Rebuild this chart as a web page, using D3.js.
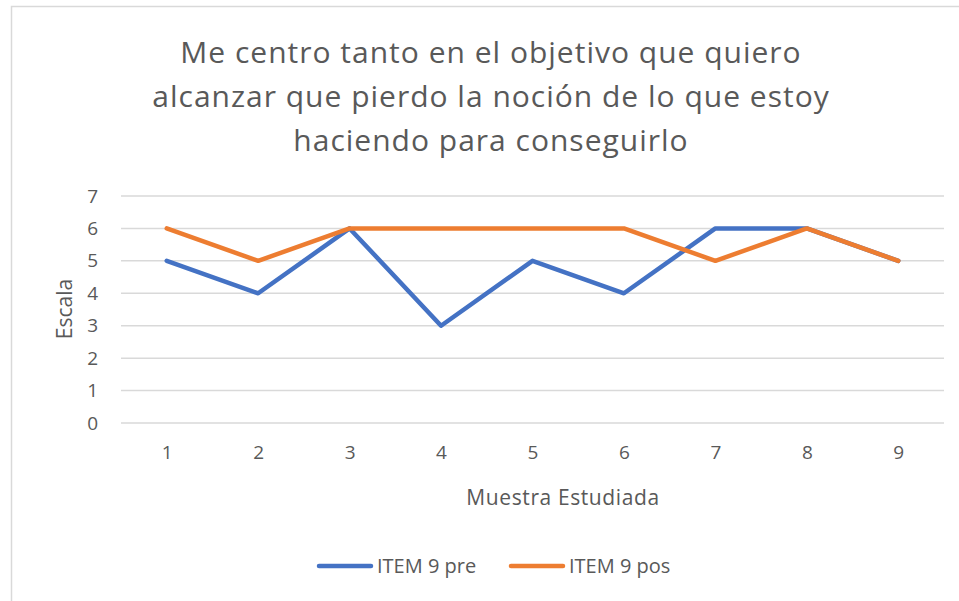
<!DOCTYPE html>
<html>
<head>
<meta charset="utf-8">
<script src="https://cdn.jsdelivr.net/npm/d3@7"></script>
<style>
  body { margin: 0; background: #fff; }
  text { font-family: "Open Sans", sans-serif; fill: #595959; }
</style>
</head>
<body>
<div id="chart"></div>
<script>
// data
var categories = [1, 2, 3, 4, 5, 6, 7, 8, 9];
var itemPre = [5, 4, 6, 3, 5, 4, 6, 6, 5];
var itemPos = [6, 5, 6, 6, 6, 6, 5, 6, 5];
var yTicks = [0, 1, 2, 3, 4, 5, 6, 7];
var titleLines = ["Me centro tanto en el objetivo que quiero",
                  "alcanzar que pierdo la noción de lo que estoy",
                  "haciendo para conseguirlo"];
var seriesNames = ["ITEM 9 pre", "ITEM 9 pos"];
var colors = ["#4472C4", "#ED7D31"];

var svgWidth = 959;
var svgHeight = 601;
var plot = { left: 121, right: 944, top: 196, bottom: 423 };

var svg = d3.select("#chart")
    .append("svg")
    .attr("width", svgWidth)
    .attr("height", svgHeight);

// chart border
svg.append("path")
    .attr("d", `M11.5,${svgHeight} V6.5 H${svgWidth}`)
    .attr("fill", "none")
    .attr("stroke", "#d9d9d9")
    .attr("stroke-width", 1.5);

// scales
var xScale = d3.scalePoint()
    .domain(categories)
    .range([plot.left, plot.right])
    .padding(0.5);
var yScale = d3.scaleLinear()
    .domain([0, 7])
    .range([plot.bottom, plot.top]);

// gridlines
svg.append("g")
    .selectAll("line")
    .data(yTicks)
    .enter()
    .append("line")
    .attr("x1", plot.left)
    .attr("x2", plot.right)
    .attr("y1", d => yScale(d))
    .attr("y2", d => yScale(d))
    .attr("stroke", "#d9d9d9")
    .attr("stroke-width", 1.5);

// y axis
var leftAxis = d3.axisLeft(yScale).tickValues(yTicks).tickFormat(d3.format("d")).tickSize(0).tickPadding(23);
var yAxisG = svg.append("g")
    .attr("transform", `translate(${plot.left}, 0)`)
    .call(leftAxis);
yAxisG.select(".domain").remove();
yAxisG.selectAll("text").attr("font-size", 19).attr("fill", "#595959").attr("font-family", "Open Sans");

// x axis
var bottomAxis = d3.axisBottom(xScale).tickSize(0).tickPadding(23);
var xAxisG = svg.append("g")
    .attr("transform", `translate(0, ${plot.bottom})`)
    .call(bottomAxis);
xAxisG.select(".domain").remove();
xAxisG.selectAll("text").attr("font-size", 19).attr("fill", "#595959").attr("font-family", "Open Sans");

// lines
var line = d3.line()
    .x((d, i) => xScale(categories[i]))
    .y(d => yScale(d));

[itemPre, itemPos].forEach(function(series, i) {
    svg.append("path")
        .datum(series)
        .attr("d", line)
        .attr("fill", "none")
        .attr("stroke", colors[i])
        .attr("stroke-width", 4.5)
        .attr("stroke-linejoin", "round")
        .attr("stroke-linecap", "round");
});

// title
svg.append("g")
    .selectAll("text")
    .data(titleLines)
    .enter()
    .append("text")
    .attr("x", 491)
    .attr("y", (d, i) => 63 + i * 44)
    .attr("text-anchor", "middle")
    .attr("font-size", 30)
    .attr("letter-spacing", 1)
    .text(d => d);

// axis titles
svg.append("text")
    .attr("transform", "rotate(-90)")
    .attr("x", -309)
    .attr("y", 72)
    .attr("text-anchor", "middle")
    .attr("font-size", 21)
    .text("Escala");

svg.append("text")
    .attr("x", 563)
    .attr("y", 505)
    .attr("text-anchor", "middle")
    .attr("font-size", 21)
    .attr("letter-spacing", 0.6)
    .text("Muestra Estudiada");

// legend
var legendX = [317, 509];
seriesNames.forEach(function(name, i) {
    var g = svg.append("g").attr("transform", `translate(${legendX[i]}, 566)`);
    g.append("line")
        .attr("x1", 2).attr("x2", 54)
        .attr("y1", 0).attr("y2", 0)
        .attr("stroke", colors[i])
        .attr("stroke-width", 4.5)
        .attr("stroke-linecap", "round");
    g.append("text")
        .attr("x", 60)
        .attr("y", 7)
        .attr("font-size", 20)
        .text(name);
});
</script>
</body>
</html>
